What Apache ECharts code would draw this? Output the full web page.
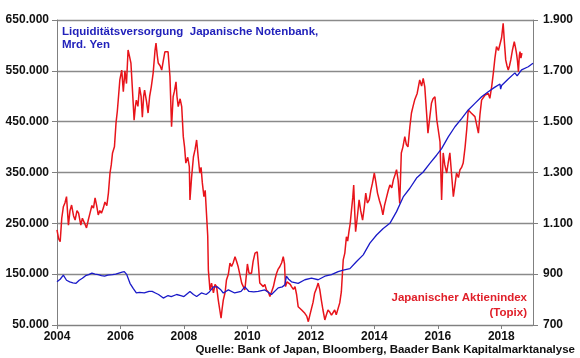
<!DOCTYPE html>
<html><head><meta charset="utf-8">
<script src="https://cdn.jsdelivr.net/npm/echarts@6/dist/echarts.min.js"></script>
<style>html,body{margin:0;padding:0;background:#fff}#c{width:580px;height:358px}</style>
</head><body><div id="c"></div>
<script>
// ---- data ----
const xTicks = [2004, 2006, 2008, 2010, 2012, 2014, 2016, 2018];
const leftTicks = [50000, 150000, 250000, 350000, 450000, 550000, 650000];
const rightTicks = [700, 900, 1100, 1300, 1500, 1700, 1900];

const topixYears = [2004.00,2004.05,2004.10,2004.15,2004.20,2004.25,2004.30,2004.36,2004.41,2004.46,2004.52,2004.57,2004.63,2004.68,2004.75,2004.80,2004.87,2004.93,2004.98,
2005.04,2005.10,2005.15,2005.20,2005.25,2005.30,2005.35,2005.40,2005.46,2005.51,2005.57,2005.62,2005.67,2005.71,2005.75,2005.81,2005.86,2005.90,2005.93,2005.98,
2006.04,2006.09,2006.14,2006.19,2006.24,2006.28,2006.33,2006.38,2006.43,2006.47,2006.50,2006.55,2006.60,2006.65,2006.69,2006.73,2006.76,2006.82,2006.87,2006.92,2006.97,
2007.03,2007.09,2007.12,2007.16,2007.19,2007.25,2007.30,2007.35,2007.40,2007.45,2007.50,2007.56,2007.61,2007.66,2007.70,2007.75,2007.78,2007.82,2007.88,2007.93,2007.98,
2008.02,2008.06,2008.12,2008.17,2008.19,2008.24,2008.30,2008.35,2008.40,2008.45,2008.50,2008.54,2008.58,2008.63,2008.67,2008.71,2008.75,2008.77,2008.80,2008.82,2008.87,2008.93,2008.98,
2009.03,2009.08,2009.13,2009.17,2009.20,2009.24,2009.30,2009.34,2009.40,2009.45,2009.50,2009.55,2009.61,2009.66,2009.71,2009.76,2009.82,2009.87,2009.92,2009.97,
2010.00,2010.05,2010.13,2010.18,2010.24,2010.31,2010.35,2010.39,2010.45,2010.50,2010.55,2010.60,2010.66,2010.71,2010.76,2010.82,2010.87,2010.92,2010.97,
2011.02,2011.08,2011.13,2011.17,2011.20,2011.25,2011.30,2011.35,2011.39,2011.45,2011.50,2011.55,2011.60,2011.66,2011.71,2011.76,2011.81,2011.87,2011.92,2011.97,
2012.02,2012.07,2012.12,2012.18,2012.23,2012.28,2012.33,2012.38,2012.44,2012.49,2012.54,2012.60,2012.65,2012.70,2012.75,2012.80,2012.86,2012.91,2012.96,
2013.02,2013.07,2013.12,2013.16,2013.20,2013.24,2013.28,2013.32,2013.35,2013.38,2013.41,2013.46,2013.52,2013.57,2013.63,2013.68,2013.73,2013.78,2013.84,2013.89,2013.94,
2014.00,2014.05,2014.10,2014.16,2014.22,2014.27,2014.32,2014.38,2014.44,2014.49,2014.55,2014.60,2014.65,2014.70,2014.75,2014.80,2014.85,2014.90,2014.96,
2015.01,2015.06,2015.12,2015.17,2015.22,2015.27,2015.35,2015.43,2015.49,2015.54,2015.59,2015.64,2015.69,2015.75,2015.80,2015.85,2015.91,2015.97,
2016.02,2016.07,2016.12,2016.17,2016.22,2016.28,2016.33,2016.38,2016.43,2016.49,2016.54,2016.59,2016.65,2016.70,2016.75,2016.80,2016.86,2016.91,2016.96,
2017.01,2017.06,2017.12,2017.17,2017.22,2017.28,2017.33,2017.38,2017.43,2017.49,2017.54,2017.59,2017.64,2017.70,2017.75,2017.80,2017.85,2017.91,2017.96,
2018.01,2018.06,2018.10,2018.14,2018.18,2018.22,2018.26,2018.30,2018.35,2018.41,2018.45,2018.48,2018.51,2018.54,2018.57,2018.59,2018.62,2018.65];
const topixValues = [1074,1040,1028,1120,1165,1180,1205,1093,1150,1172,1130,1113,1150,1140,1093,1120,1100,1082,1110,
1140,1170,1160,1200,1170,1133,1150,1140,1160,1184,1170,1219,1298,1330,1377,1401,1495,1540,1585,1664,
1703,1618,1700,1650,1782,1760,1730,1620,1506,1560,1585,1560,1636,1600,1518,1600,1624,1580,1534,1600,1636,
1691,1782,1809,1760,1731,1720,1703,1740,1775,1780,1775,1677,1480,1598,1620,1657,1600,1559,1590,1559,1441,
1400,1337,1360,1323,1192,1280,1362,1390,1428,1360,1298,1320,1259,1205,1230,1140,1050,916,870,838,865,826,860,
851,800,759,727,760,798,830,877,900,944,930,944,969,950,929,900,865,870,838,900,
940,904,904,950,983,988,930,865,870,851,860,838,830,812,830,851,880,904,920,
929,945,969,940,851,870,865,860,851,840,851,820,772,770,759,765,746,735,713,740,
746,790,826,845,865,840,798,760,720,740,759,750,739,745,759,740,746,787,830,
956,983,1047,1030,1067,1100,1152,1200,1251,1150,1067,1120,1192,1150,1113,1160,1219,1180,1192,1230,1258,
1298,1260,1219,1190,1165,1133,1170,1200,1230,1251,1240,1271,1290,1311,1270,1178,1377,1400,1441,
1410,1401,1480,1534,1560,1585,1611,1664,1640,1670,1637,1546,1455,1520,1572,1590,1598,1506,
1500,1420,1192,1377,1330,1298,1340,1377,1300,1205,1250,1298,1280,1311,1320,1337,1400,1467,1546,
1550,1533,1540,1520,1490,1455,1530,1585,1590,1605,1600,1611,1592,1640,1691,1750,1795,1780,1782,
1830,1887,1810,1743,1720,1703,1720,1743,1780,1815,1790,1769,1740,1697,1760,1776,1750,1770];

const baseYears = [2004.00,2004.10,2004.20,2004.30,2004.40,2004.50,2004.60,2004.70,2004.80,2004.90,
2005.00,2005.10,2005.20,2005.30,2005.40,2005.50,2005.60,2005.75,2005.85,2005.95,
2006.05,2006.12,2006.20,2006.30,2006.40,2006.50,2006.60,2006.75,2006.90,
2007.00,2007.10,2007.20,2007.35,2007.50,2007.60,2007.77,2007.90,
2008.00,2008.19,2008.30,2008.40,2008.55,2008.70,2008.80,2008.93,
2009.05,2009.15,2009.24,2009.40,2009.60,2009.80,2009.92,
2010.05,2010.20,2010.34,2010.55,2010.76,2010.97,
2011.10,2011.18,2011.23,2011.30,2011.39,2011.60,2011.81,
2012.02,2012.23,2012.44,2012.65,2012.86,
2013.02,2013.23,2013.44,2013.65,2013.86,
2014.07,2014.28,2014.49,2014.70,2014.91,
2015.12,2015.33,2015.54,2015.75,2015.96,
2016.12,2016.33,2016.54,2016.75,2016.96,
2017.17,2017.38,2017.59,2017.80,2017.96,2017.98,
2018.01,2018.22,2018.43,2018.48,2018.50,2018.64,2018.85,2019.00];
const baseValues = [135000,140000,148000,138000,135000,133000,132000,138000,142000,147000,
149000,152000,150000,149000,147000,146000,148000,149000,150000,152000,
154000,155000,149000,132000,122000,113000,114000,113000,116000,
116000,113000,110000,103000,108000,106000,110000,108000,
106000,116000,110000,106000,113000,110000,115000,125000,
125000,120000,113000,119000,113000,116000,125000,
116000,115000,116000,119000,110000,123000,
125000,129000,146000,140000,135000,132000,139000,
142000,139000,146000,149000,155000,
158000,161000,175000,188000,211000,
227000,240000,250000,273000,302000,
319000,339000,351000,368000,384000,
397000,420000,440000,456000,473000,
486000,499000,509000,518000,524000,514000,
521000,534000,546000,548000,540000,552000,558000,565000];

const annoLeft = ['Liquiditätsversorgung  Japanische Notenbank,', 'Mrd. Yen'];
const annoRight = ['Japanischer Aktienindex', '(Topix)'];
const sourceText = 'Quelle: Bank of Japan, Bloomberg, Baader Bank Kapitalmarktanalyse';

function de(v){ return String(Math.round(v)).replace(/\B(?=(\d{3})+(?!\d))/g, '.'); }

const FONT = '"Liberation Sans", Arial, sans-serif';
const chart = echarts.init(document.getElementById('c'), null, {renderer:'canvas'});
const axisCol = '#808080';
chart.setOption({
  animation: false,
  backgroundColor: '#ffffff',
  grid: {left: 57, right: 47, top: 20, bottom: 33, containLabel: false},
  xAxis: {
    type: 'value', min: xTicks[0], max: 2019, interval: 2,
    axisLine: {show: true, lineStyle: {color: axisCol, width: 1}},
    axisTick: {show: true, length: 4, inside: false, lineStyle: {color: axisCol}},
    axisLabel: {showMaxLabel: false, color: '#111', fontFamily: FONT, fontWeight: 'bold', fontSize: 12, margin: 6,
      formatter: v => xTicks.indexOf(v) >= 0 ? String(v) : ''},
    splitLine: {show: false}
  },
  yAxis: [
    {type: 'value', position: 'left', min: leftTicks[0], max: leftTicks[leftTicks.length-1], interval: 100000,
     axisLine: {show: true, lineStyle: {color: axisCol}},
     axisTick: {show: true, length: 5, lineStyle: {color: axisCol}},
     axisLabel: {color: '#111', fontFamily: FONT, fontWeight: 'bold', fontSize: 12, margin: 8, formatter: v => de(v)},
     splitLine: {show: true, lineStyle: {color: '#8a8a8a', width: 1.3}}},
    {type: 'value', position: 'right', min: rightTicks[0], max: rightTicks[rightTicks.length-1], interval: 200,
     axisLine: {show: true, lineStyle: {color: axisCol}},
     axisTick: {show: true, length: 5, lineStyle: {color: axisCol}},
     axisLabel: {color: '#111', fontFamily: FONT, fontWeight: 'bold', fontSize: 12, margin: 10, formatter: v => de(v)},
     splitLine: {show: false}}
  ],
  series: [
    {name: 'Topix', type: 'line', yAxisIndex: 1, showSymbol: false, symbol: 'none',
     data: topixYears.map((y, i) => [y, topixValues[i]]),
     lineStyle: {color: '#e8141b', width: 1.5}},
    {name: 'Liquidität', type: 'line', yAxisIndex: 0, showSymbol: false, symbol: 'none',
     data: baseYears.map((y, i) => [y, baseValues[i]]),
     lineStyle: {color: '#1a1ac8', width: 1.3}}
  ],
  graphic: [
    {type: 'text', left: 62, top: 25, style: {text: annoLeft.join('\n'), fill: '#2222bb', font: 'bold 11.5px ' + FONT, lineHeight: 13}},
    {type: 'text', right: 53, top: 292, style: {text: annoRight[0], fill: '#e0202a', font: 'bold 11.5px ' + FONT}},
    {type: 'text', right: 53, top: 307, style: {text: annoRight[1], fill: '#e0202a', font: 'bold 11.5px ' + FONT}},
    {type: 'text', right: 5, top: 344, style: {text: sourceText, fill: '#111', font: 'bold 11.5px ' + FONT}}
  ]
});
</script></body></html>
